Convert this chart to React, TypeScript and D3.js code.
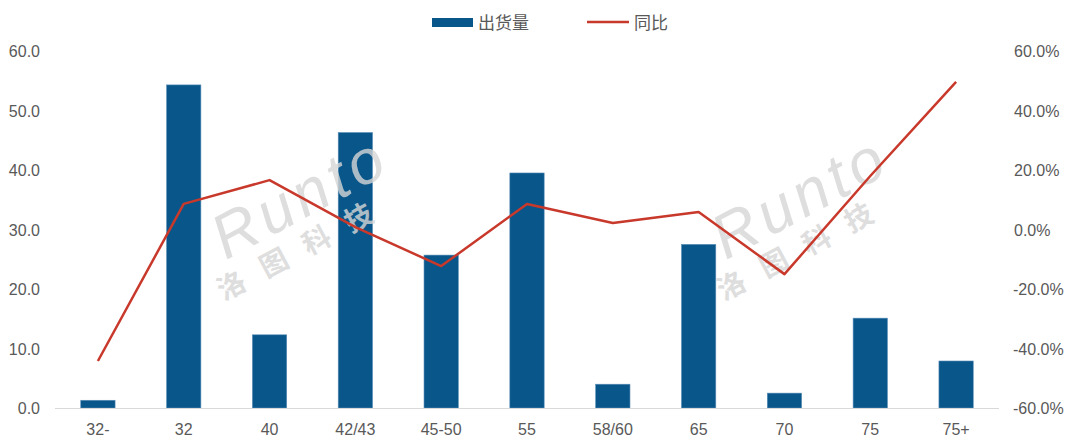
import React from "react";
import * as d3 from "d3";

const categories = ["32-", "32", "40", "42/43", "45-50", "55", "58/60", "65", "70", "75", "75+"];
const shipments = [1.3, 54.3, 12.3, 46.3, 25.7, 39.5, 4.0, 27.5, 2.5, 15.1, 7.9];
const yoy = [-44.2, 8.6, 16.6, 0.8, -12.3, 8.6, 2.2, 5.9, -15.0, 18.0, 49.6];
const leftTicks = [0, 10, 20, 30, 40, 50, 60];
const rightTicks = [-60, -40, -20, 0, 20, 40, 60];

const W = 1080;
const H = 446;
const M = { left: 55, right: 81, top: 51, bottom: 38 };
const BLUE = "#08568A";
const RED = "#C8392B";
const TXT = "#595959";
const FONT = "'Liberation Sans', Arial, sans-serif";
const CJK = "'Noto Sans CJK SC', sans-serif";

export default function App() {
  const x = d3.scaleBand<string>().domain(categories).range([M.left, W - M.right]).paddingInner(0.6).paddingOuter(0.3);
  const yL = d3.scaleLinear().domain([0, 60]).range([H - M.bottom, M.top]);
  const yR = d3.scaleLinear().domain([-60, 60]).range([H - M.bottom, M.top]);
  const line = d3
    .line<number>()
    .x((_, i) => (x(categories[i]) as number) + x.bandwidth() / 2)
    .y((d) => yR(d));

  const watermarks = [
    { cx: 300, cy: 197 },
    { cx: 800, cy: 197 },
  ];

  return (
    <svg width={W} height={H} style={{ position: "absolute", left: 0, top: 0, background: "#fff" }}>
      {/* legend */}
      <rect x={432} y={18} width={41} height={9} fill={BLUE} />
      <text x={478} y={29} fontFamily={CJK} fontSize={17} fill={TXT}>出货量</text>
      <line x1={587} x2={629} y1={22} y2={22} stroke={RED} strokeWidth={2.5} />
      <text x={634} y={29} fontFamily={CJK} fontSize={17} fill={TXT}>同比</text>

      {/* left axis */}
      {leftTicks.map((t) => (
        <text key={"l" + t} x={40} y={yL(t) + 6} textAnchor="end" fontFamily={FONT} fontSize={16} fill={TXT}>
          {t.toFixed(1)}
        </text>
      ))}
      {/* right axis */}
      {rightTicks.map((t) => (
        <text key={"r" + t} x={t < 0 ? 1013 : 1014} y={yR(t) + 6} textAnchor="start" fontFamily={FONT} fontSize={16} fill={TXT}>
          {(t < 0 ? "-" : "") + Math.abs(t).toFixed(1) + "%"}
        </text>
      ))}

      {/* bars */}
      {shipments.map((v, i) => (
        <rect
          key={"b" + i}
          x={x(categories[i])}
          y={yL(v)}
          width={x.bandwidth()}
          height={yL(0) - yL(v)}
          fill={BLUE}
          stroke="#5b8fb8"
          strokeWidth={0.6}
        />
      ))}

      {/* baseline */}
      <line x1={M.left} x2={W - M.right} y1={yL(0) + 0.5} y2={yL(0) + 0.5} stroke="#d9d9d9" strokeWidth={1} />

      {/* x labels */}
      {categories.map((c) => (
        <text key={"x" + c} x={(x(c) as number) + x.bandwidth() / 2} y={435} textAnchor="middle" fontFamily={FONT} fontSize={16} fill={TXT}>
          {c}
        </text>
      ))}

      {/* watermarks */}
      {watermarks.map((w, i) => (
        <g key={"w" + i} transform={`translate(${w.cx},${w.cy}) rotate(-28)`} opacity={0.8}>
          <text x={0} y={21} textAnchor="middle" fontFamily={FONT} fontStyle="italic" fontSize={62} fill="#d6d6d6" letterSpacing={5}>
            Runto
          </text>
          <text x={-20} y={56} textAnchor="middle" fontFamily={CJK} fontWeight={700} fontSize={28} fill="#d6d6d6" letterSpacing={20}>
            洛图科技
          </text>
        </g>
      ))}

      {/* line */}
      <path d={line(yoy) || ""} fill="none" stroke={RED} strokeWidth={2.5} strokeLinejoin="round" />
    </svg>
  );
}
